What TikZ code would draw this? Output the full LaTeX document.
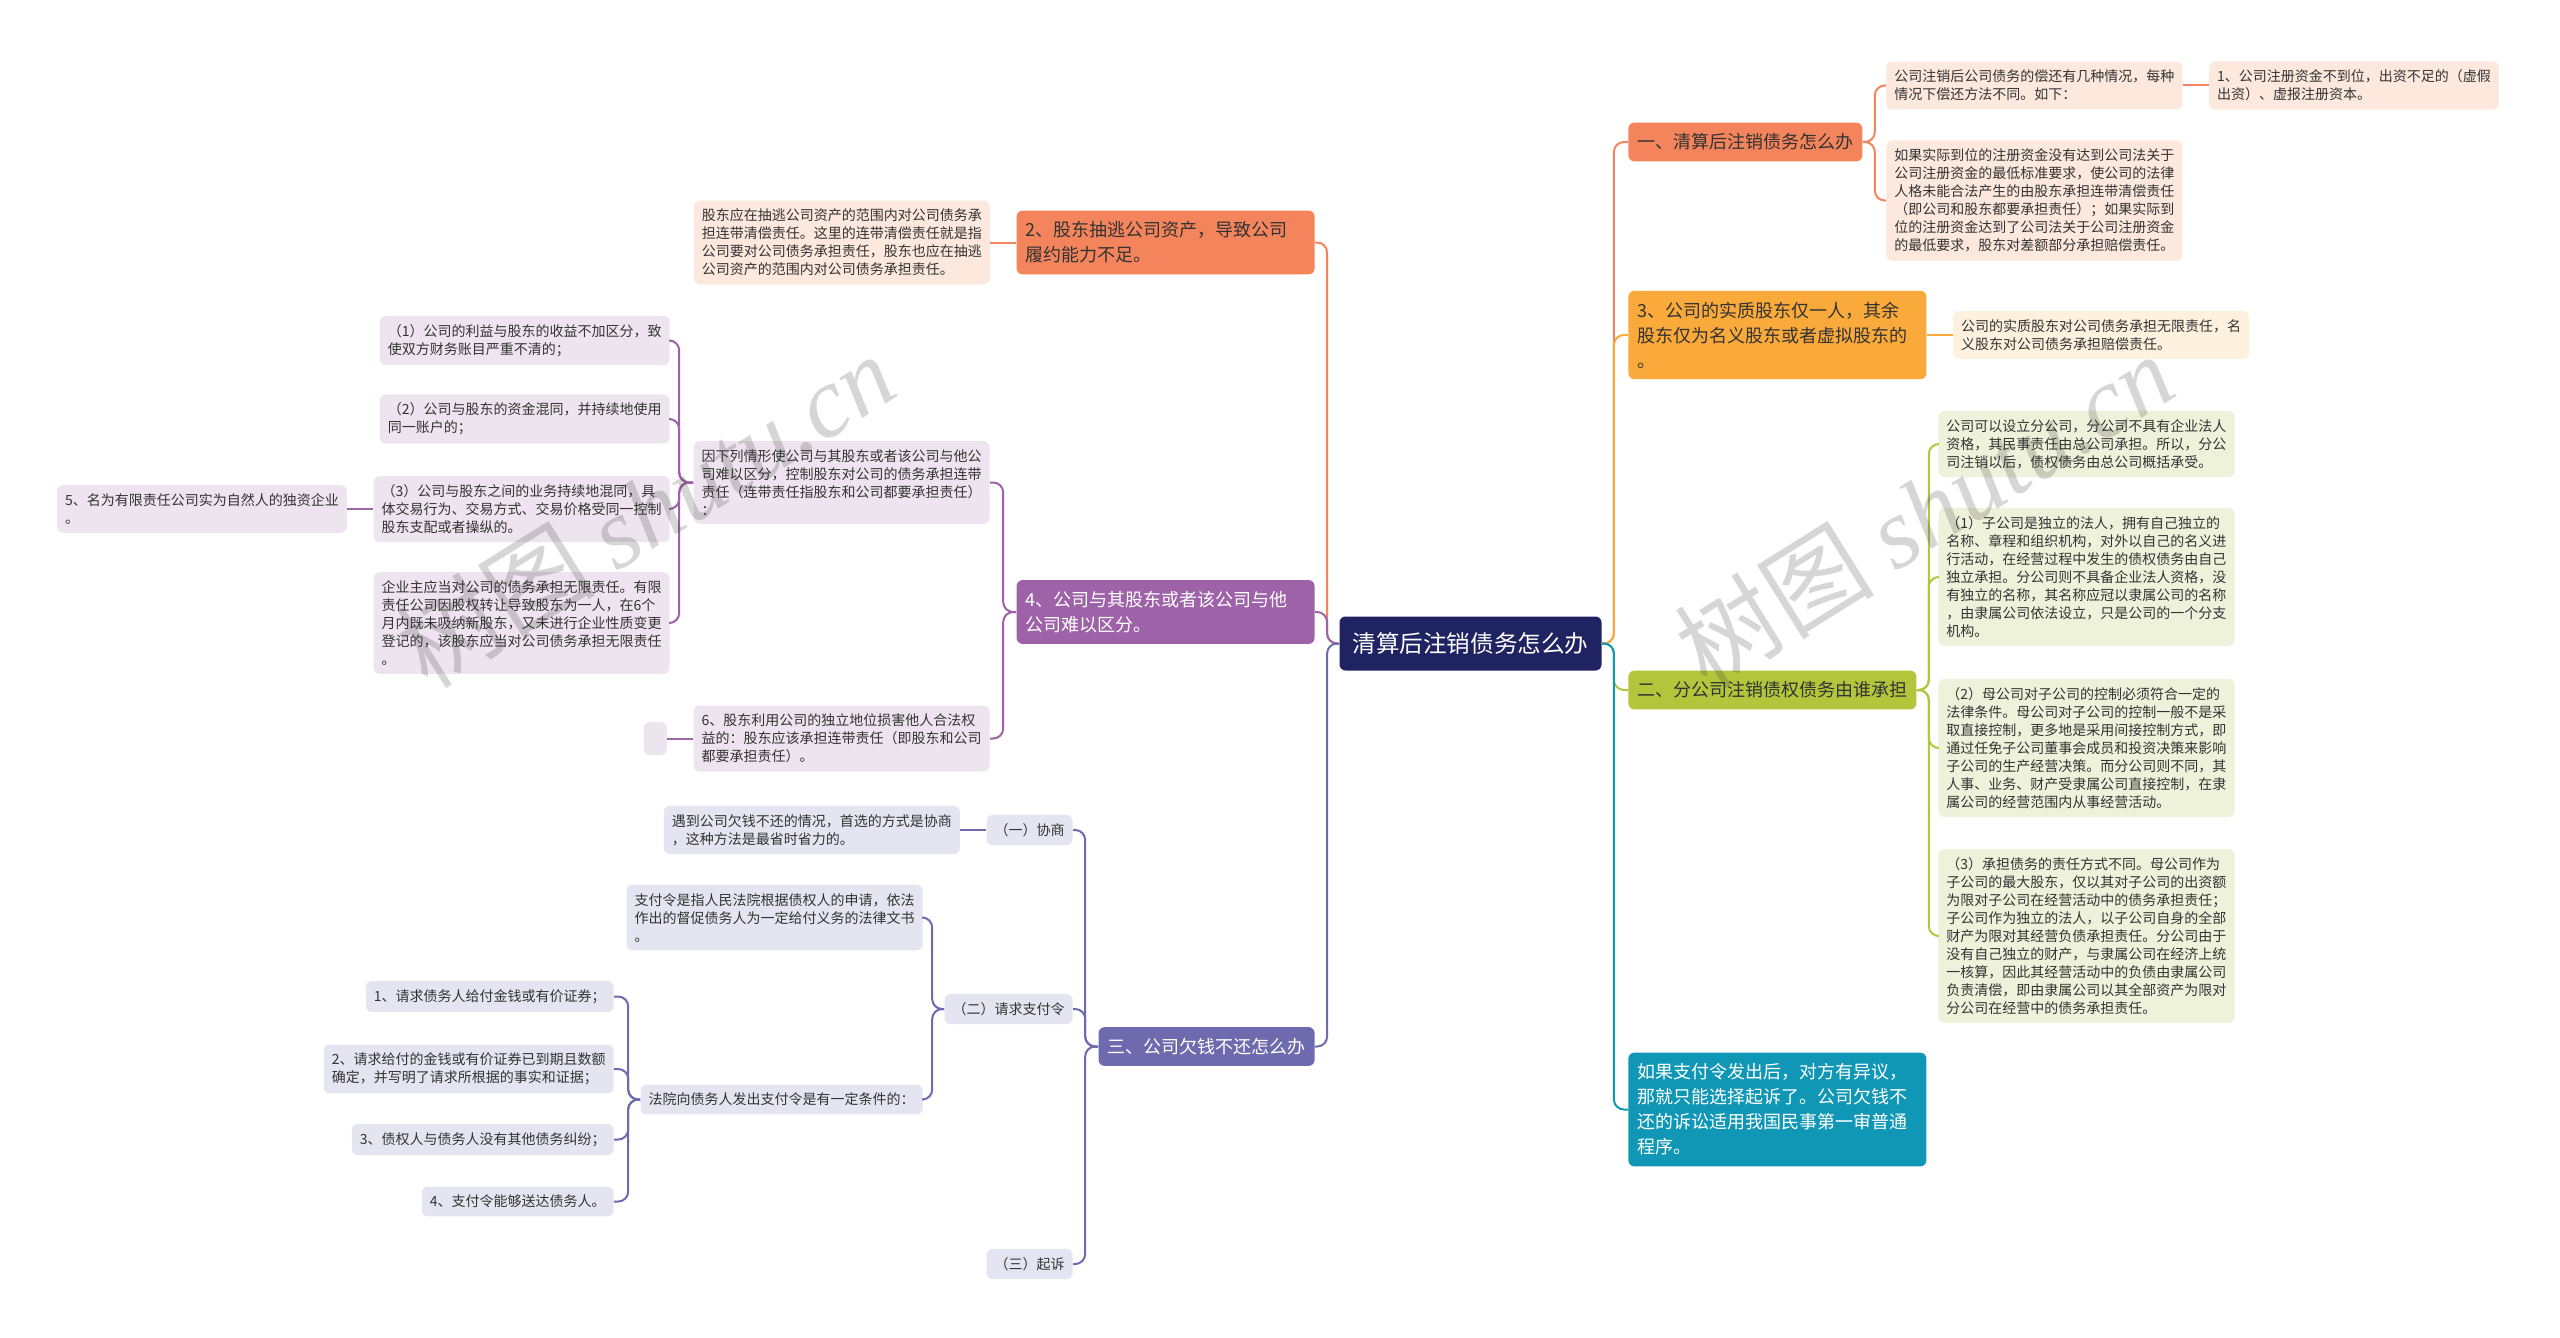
\documentclass[tikz,border=0pt]{standalone}
\usepackage{fontspec}
\newfontfamily\cjk{Noto Sans CJK SC}
\newfontfamily\wmfont{Liberation Serif}
\usetikzlibrary{positioning}

\definecolor{navy}{HTML}{1F2362}
\definecolor{ink}{HTML}{333333}
\definecolor{orangec}{HTML}{F3845C}
\definecolor{peach}{HTML}{FDE8DE}
\definecolor{amberc}{HTML}{FAA93B}
\definecolor{cream}{HTML}{FEF2DF}
\definecolor{greenc}{HTML}{B2C53B}
\definecolor{sage}{HTML}{EFF2DA}
\definecolor{tealc}{HTML}{1097B5}
\definecolor{purplec}{HTML}{9E62A8}
\definecolor{lilac}{HTML}{EEE4EF}
\definecolor{slatec}{HTML}{6D6BAE}
\definecolor{lavender}{HTML}{E5E5F1}

\begin{document}
\begin{tikzpicture}[x=0.5pt, y=-0.5pt,
    root/.style={fill=navy, text=white, rounded corners=3pt, inner xsep=6.5pt, minimum height=27pt,
        font=\cjk\fontsize{11.8}{14}\selectfont},
    topic/.style={rounded corners=3pt, inner xsep=4.5pt, inner ysep=5.5pt, align=left, text=ink,
        font=\cjk\fontsize{9}{12.5}\selectfont},
    wide/.style={text width=140pt},
    leaf/.style={rounded corners=3pt, inner xsep=4pt, inner ysep=4.2pt, align=left, text=ink,
        font=\cjk\fontsize{7}{9}\selectfont},
    link/.style={draw=#1, line width=1pt, rounded corners=5pt},
    wmark/.style={rotate=32, text=black!80, opacity=0.2, font=\cjk\fontsize{50}{50}\selectfont}
]
    \fill[white] (0,0) rectangle (2560,1338);

    \node[root] (root) at (1470.5,643.5) {清算后注销债务怎么办};

    % right side
    \node[topic, fill=orangec, anchor=west] (r1) at (1628,142) {一、清算后注销债务怎么办};
    \node[leaf, fill=peach, anchor=west] (r1a) at (1886,85.5) {公司注销后公司债务的偿还有几种情况，每种\\情况下偿还方法不同。如下：};
    \node[leaf, fill=peach, right=13pt of r1a] (r1aa) {1、公司注册资金不到位，出资不足的（虚假\\出资）、虚报注册资本。};
    \node[leaf, fill=peach, anchor=west] (r1b) at (1886,200.5) {如果实际到位的注册资金没有达到公司法关于\\公司注册资金的最低标准要求，使公司的法律\\人格未能合法产生的由股东承担连带清偿责任\\（即公司和股东都要承担责任）；如果实际到\\位的注册资金达到了公司法关于公司注册资金\\的最低要求，股东对差额部分承担赔偿责任。};

    \node[topic, wide, fill=amberc, anchor=west] (r2) at (1628,335) {3、公司的实质股东仅一人，其余\\股东仅为名义股东或者虚拟股东的\\。};
    \node[leaf, fill=cream, right=13pt of r2] (r2a) {公司的实质股东对公司债务承担无限责任，名\\义股东对公司债务承担赔偿责任。};

    \node[topic, fill=greenc, anchor=west] (r3) at (1628,690) {二、分公司注销债权债务由谁承担};
    \node[leaf, fill=sage, anchor=west] (r3a) at (1938,444) {公司可以设立分公司，分公司不具有企业法人\\资格，其民事责任由总公司承担。所以，分公\\司注销以后，债权债务由总公司概括承受。};
    \node[leaf, fill=sage, anchor=west] (r3b) at (1938,577) {（1）子公司是独立的法人，拥有自己独立的\\名称、章程和组织机构，对外以自己的名义进\\行活动，在经营过程中发生的债权债务由自己\\独立承担。分公司则不具备企业法人资格，没\\有独立的名称，其名称应冠以隶属公司的名称\\，由隶属公司依法设立，只是公司的一个分支\\机构。};
    \node[leaf, fill=sage, anchor=west] (r3c) at (1938,748) {（2）母公司对子公司的控制必须符合一定的\\法律条件。母公司对子公司的控制一般不是采\\取直接控制，更多地是采用间接控制方式，即\\通过任免子公司董事会成员和投资决策来影响\\子公司的生产经营决策。而分公司则不同，其\\人事、业务、财产受隶属公司直接控制，在隶\\属公司的经营范围内从事经营活动。};
    \node[leaf, fill=sage, anchor=west] (r3d) at (1938,936) {（3）承担债务的责任方式不同。母公司作为\\子公司的最大股东，仅以其对子公司的出资额\\为限对子公司在经营活动中的债务承担责任；\\子公司作为独立的法人，以子公司自身的全部\\财产为限对其经营负债承担责任。分公司由于\\没有自己独立的财产，与隶属公司在经济上统\\一核算，因此其经营活动中的负债由隶属公司\\负责清偿，即由隶属公司以其全部资产为限对\\分公司在经营中的债务承担责任。};

    \node[topic, wide, fill=tealc, text=white, anchor=west] (r4) at (1628,1109.5) {如果支付令发出后，对方有异议，\\那就只能选择起诉了。公司欠钱不\\还的诉讼适用我国民事第一审普通\\程序。};

    % left side
    \node[topic, wide, fill=orangec, anchor=east] (la) at (1315,242.5) {2、股东抽逃公司资产，导致公司\\履约能力不足。};
    \node[leaf, fill=peach, left=13pt of la] (la1) {股东应在抽逃公司资产的范围内对公司债务承\\担连带清偿责任。这里的连带清偿责任就是指\\公司要对公司债务承担责任，股东也应在抽逃\\公司资产的范围内对公司债务承担责任。};

    \node[topic, wide, fill=purplec, text=white, anchor=east] (lb) at (1315,612) {4、公司与其股东或者该公司与他\\公司难以区分。};
    \node[leaf, fill=lilac, anchor=east] (lb1) at (990,482.5) {因下列情形使公司与其股东或者该公司与他公\\司难以区分，控制股东对公司的债务承担连带\\责任（连带责任指股东和公司都要承担责任）\\：};
    \node[leaf, fill=lilac, anchor=east] (lb1a) at (670,340.5) {（1）公司的利益与股东的收益不加区分，致\\使双方财务账目严重不清的；};
    \node[leaf, fill=lilac, anchor=east] (lb1b) at (670,419) {（2）公司与股东的资金混同，并持续地使用\\同一账户的；};
    \node[leaf, fill=lilac, anchor=east] (lb1c) at (670,509) {（3）公司与股东之间的业务持续地混同，具\\体交易行为、交易方式、交易价格受同一控制\\股东支配或者操纵的。};
    \node[leaf, fill=lilac, left=13pt of lb1c] (lb1cc) {5、名为有限责任公司实为自然人的独资企业\\。};
    \node[leaf, fill=lilac, anchor=east] (lb1d) at (670,623) {企业主应当对公司的债务承担无限责任。有限\\责任公司因股权转让导致股东为一人，在6个\\月内既未吸纳新股东，又未进行企业性质变更\\登记的，该股东应当对公司债务承担无限责任\\。};
    \node[leaf, fill=lilac, anchor=east] (lb2) at (990,738.5) {6、股东利用公司的独立地位损害他人合法权\\益的：股东应该承担连带责任（即股东和公司\\都要承担责任）。};
    \node[leaf, fill=lilac, minimum width=11.5pt, minimum height=16.5pt, left=13pt of lb2] (lb2a) {};

    \node[topic, fill=slatec, text=white, anchor=east] (lc) at (1315,1046.5) {三、公司欠钱不还怎么办};
    \node[leaf, fill=lavender, anchor=east] (lc1) at (1073,830) {（一）协商};
    \node[leaf, fill=lavender, left=13pt of lc1] (lc1a) {遇到公司欠钱不还的情况，首选的方式是协商\\，这种方法是最省时省力的。};
    \node[leaf, fill=lavender, anchor=east] (lc2) at (1073,1009) {（二）请求支付令};
    \node[leaf, fill=lavender, anchor=east] (lc2a) at (923,917.5) {支付令是指人民法院根据债权人的申请，依法\\作出的督促债务人为一定给付义务的法律文书\\。};
    \node[leaf, fill=lavender, anchor=east] (lc2b) at (923,1099.5) {法院向债务人发出支付令是有一定条件的：};
    \node[leaf, fill=lavender, anchor=east] (lc2b1) at (614,996.5) {1、请求债务人给付金钱或有价证券；};
    \node[leaf, fill=lavender, anchor=east] (lc2b2) at (614,1069) {2、请求给付的金钱或有价证券已到期且数额\\确定，并写明了请求所根据的事实和证据；};
    \node[leaf, fill=lavender, anchor=east] (lc2b3) at (614,1139.5) {3、债权人与债务人没有其他债务纠纷；};
    \node[leaf, fill=lavender, anchor=east] (lc2b4) at (614,1201.5) {4、支付令能够送达债务人。};
    \node[leaf, fill=lavender, anchor=east] (lc3) at (1073,1264) {（三）起诉};

    % connectors, right
    \draw[link=orangec] (root.east) -- ++(12,0) |- (r1.west);
    \draw[link=amberc] (root.east) -- ++(12,0) |- (r2.west);
    \draw[link=greenc] (root.east) -- ++(12,0) |- (r3.west);
    \draw[link=tealc] (root.east) -- ++(12,0) |- (r4.west);
    \foreach \c in {r1a,r1b}
        \draw[link=orangec] (r1.east) -- ++(12,0) |- (\c.west);
    \draw[link=orangec] (r1a.east) -- (r1aa.west);
    \draw[link=amberc] (r2.east) -- (r2a.west);
    \foreach \c in {r3a,r3b,r3c,r3d}
        \draw[link=greenc] (r3.east) -- ++(12,0) |- (\c.west);

    % connectors, left
    \draw[link=orangec] (root.west) -- ++(-12,0) |- (la.east);
    \draw[link=purplec] (root.west) -- ++(-12,0) |- (lb.east);
    \draw[link=slatec] (root.west) -- ++(-12,0) |- (lc.east);
    \draw[link=orangec] (la.west) -- (la1.east);
    \foreach \c in {lb1,lb2}
        \draw[link=purplec] (lb.west) -- ++(-13,0) |- (\c.east);
    \foreach \c in {lb1a,lb1b,lb1c,lb1d}
        \draw[link=purplec] (lb1.west) -- ++(-14,0) |- (\c.east);
    \draw[link=purplec] (lb1c.west) -- (lb1cc.east);
    \draw[link=purplec] (lb2.west) -- (lb2a.east);
    \foreach \c in {lc1,lc2,lc3}
        \draw[link=slatec] (lc.west) -- ++(-13,0) |- (\c.east);
    \draw[link=slatec] (lc1.west) -- (lc1a.east);
    \foreach \c in {lc2a,lc2b}
        \draw[link=slatec] (lc2.west) -- ++(-12,0) |- (\c.east);
    \foreach \c in {lc2b1,lc2b2,lc2b3,lc2b4}
        \draw[link=slatec] (lc2b.west) -- ++(-12,0) |- (\c.east);

    % watermarks
    \node[wmark] (wm1) at (645,510) {树图 {\wmfont\itshape shutu.cn}};
    \node[wmark] (wm2) at (1924,510) {树图 {\wmfont\itshape shutu.cn}};
\end{tikzpicture}
\end{document}
